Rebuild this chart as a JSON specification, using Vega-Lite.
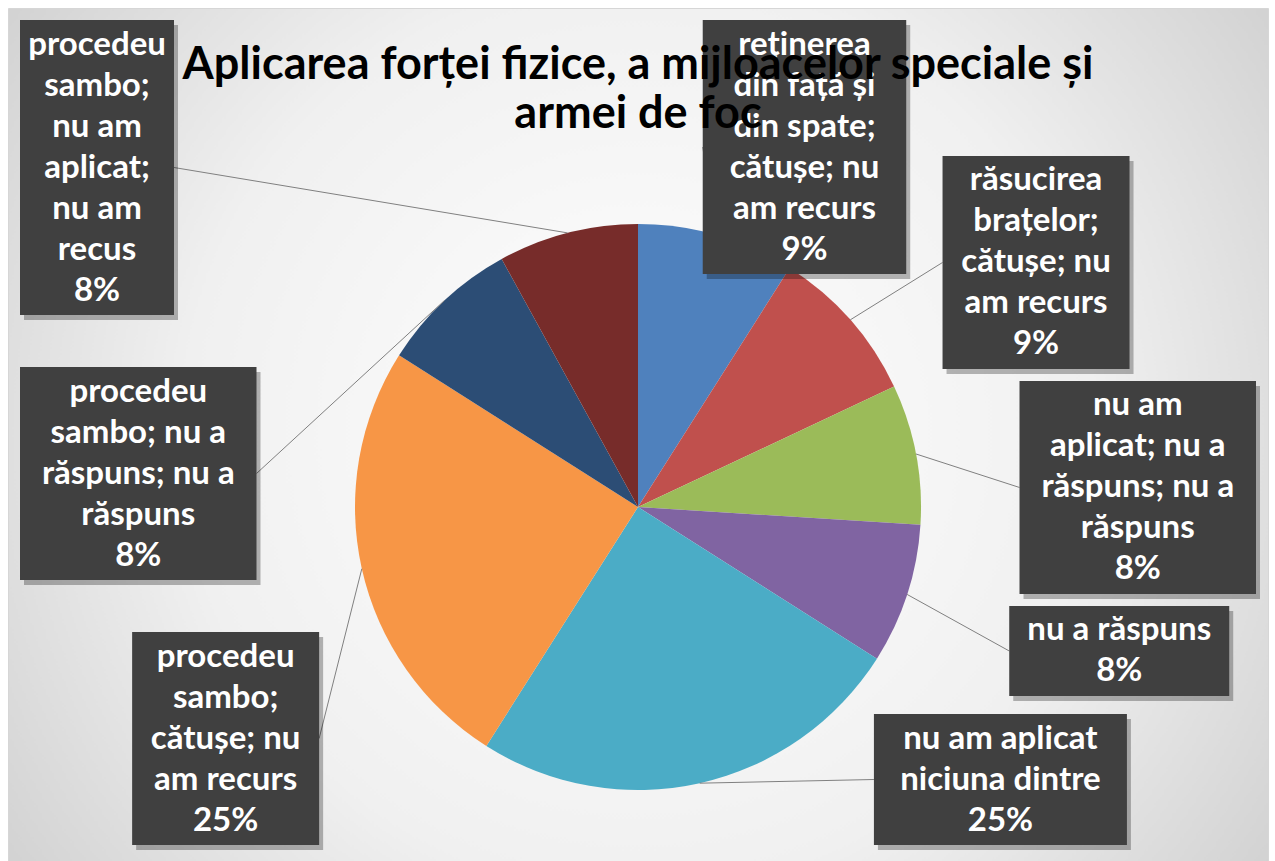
{
  "$schema": "https://vega.github.io/schema/vega-lite/v6.json",
  "width": 1260,
  "height": 853,
  "padding": {"left": 8, "top": 8, "right": 7, "bottom": 0},
  "autosize": {"type": "none"},
  "background": "#ffffff",
  "view": {
    "fill": {"gradient": "radial", "x1": 0.5, "y1": 0.5, "x2": 0.5, "y2": 0.5, "r1": 0, "r2": 0.72,
      "stops": [{"offset": 0, "color": "#ffffff"}, {"offset": 0.5, "color": "#f0f0f0"}, {"offset": 1, "color": "#c4c4c4"}]},
    "stroke": "#d6d6d6"
  },
  "title": {
    "text": ["Aplicarea forței fizice, a mijloacelor speciale și", "armei de foc"],
    "font": "Lato", "fontSize": 45, "fontWeight": "bold", "color": "#000000",
    "anchor": "middle", "offset": -129, "lineHeight": 49
  },
  "data": {
    "values": [
      {"label": "reținerea\ndin față și\ndin spate;\ncătușe; nu\nam recurs", "value": 9},
      {"label": "răsucirea\nbrațelor;\ncătușe; nu\nam recurs", "value": 9},
      {"label": "nu am\naplicat; nu a\nrăspuns; nu a\nrăspuns", "value": 8},
      {"label": "nu a răspuns", "value": 8},
      {"label": "nu am aplicat\nniciuna dintre", "value": 25},
      {"label": "procedeu\nsambo;\ncătușe; nu\nam recurs", "value": 25},
      {"label": "procedeu\nsambo; nu a\nrăspuns; nu a\nrăspuns", "value": 8},
      {"label": "procedeu\nsambo;\nnu am\naplicat;\nnu am\nrecus", "value": 8}
    ]
  },
  "transform": [
    {"window": [{"op": "row_number", "as": "idx"}]},
    {"joinaggregate": [{"op": "sum", "field": "value", "as": "total"}]},
    {"window": [{"op": "sum", "field": "value", "as": "cum"}], "sort": [{"field": "idx"}], "frame": [null, 0]},
    {"calculate": "2*PI*(datum.cum - datum.value/2)/datum.total", "as": "mid"},
    {"calculate": "datum.label + '\\n' + datum.value + '%'", "as": "full"},
    {"calculate": "split(datum.full, '\\n')", "as": "parts"},
    {"calculate": "length(datum.parts)", "as": "nl"},
    {"calculate": "max(length(datum.parts[0]||''), length(datum.parts[1]||''), length(datum.parts[2]||''), length(datum.parts[3]||''), length(datum.parts[4]||''), length(datum.parts[5]||''), length(datum.parts[6]||''))", "as": "maxc"},
    {"calculate": "datum.nl*41 + 8", "as": "h"},
    {"calculate": "datum.maxc*16.5 + 22", "as": "w"},
    {"calculate": "sin(datum.mid) >= 0 ? 1 : -1", "as": "side"},
    {"calculate": "datum.side > 0 ? datum.mid : 2*PI - datum.mid", "as": "vkey"},
    {"calculate": "-487 + datum.h/2", "as": "ytop"},
    {"calculate": "338 - datum.h/2", "as": "ybot"},
    {"calculate": "618 - datum.w/2", "as": "flush"},
    {"calculate": "clamp(20 - 400*cos(datum.mid), datum.ytop, datum.ybot)", "as": "dy0"},
    {"calculate": "datum.side*min(datum.flush, 520*sqrt(max(0, 1 - pow(datum.dy0/380, 2))))", "as": "x0"},
    {"window": [
      {"op": "row_number", "as": "rk"},
      {"op": "count", "as": "cnt"},
      {"op": "lag", "field": "x0", "param": 1, "as": "px0"},
      {"op": "lag", "field": "w", "param": 1, "as": "pw"},
      {"op": "lag", "field": "h", "param": 1, "as": "ph"},
      {"op": "sum", "field": "h", "as": "htot"}
    ], "groupby": ["side"], "sort": [{"field": "vkey", "order": "ascending"}], "frame": [null, null]},
    {"window": [{"op": "sum", "field": "h", "as": "hcum"}], "groupby": ["side"], "sort": [{"field": "vkey", "order": "ascending"}], "frame": [null, 0]},
    {"calculate": "datum.rk == 1 ? 0 : (abs(datum.x0 - datum.px0) < (datum.w + datum.pw)/2 ? (datum.h + datum.ph)/2 + 12 : -3000)", "as": "step"},
    {"window": [{"op": "sum", "field": "step", "as": "stepcum"}], "groupby": ["side"], "sort": [{"field": "vkey", "order": "ascending"}], "frame": [null, 0]},
    {"calculate": "datum.dy0 - datum.stepcum", "as": "zz"},
    {"window": [{"op": "max", "field": "zz", "as": "zzmax"}], "groupby": ["side"], "sort": [{"field": "vkey", "order": "ascending"}], "frame": [null, 0]},
    {"calculate": "datum.side > 0 ? min(datum.stepcum + datum.zzmax, datum.ybot) : (-487 + datum.hcum - datum.h + (datum.rk - 1)*(825 - datum.htot)/max(1, datum.cnt - 1) + datum.h/2)", "as": "ly"},
    {"calculate": "520*sqrt(max(0, 1 - pow(datum.ly/380, 2)))", "as": "ell"},
    {"calculate": "datum.side > 0 ? min(datum.flush, datum.ell) : -(datum.ly > 0 ? min(datum.flush, datum.ell) : datum.flush)", "as": "lx"},
    {"calculate": "datum.ly - (datum.nl - 1)*41/2", "as": "ty"},
    {"calculate": "datum.lx - datum.w/2", "as": "bx1"},
    {"calculate": "datum.lx + datum.w/2", "as": "bx2"},
    {"calculate": "datum.ly - datum.h/2", "as": "by1"},
    {"calculate": "datum.ly + datum.h/2", "as": "by2"},
    {"calculate": "283*sin(datum.mid)", "as": "px"},
    {"calculate": "-283*cos(datum.mid)", "as": "py"},
    {"calculate": "datum.side > 0 ? datum.bx1 : datum.bx2", "as": "ex"}
  ],
  "layer": [
    {
      "mark": {"type": "arc", "outerRadius": 283},
      "encoding": {
        "x": {"datum": 0, "type": "quantitative", "scale": {"domain": [-630, 630]}, "axis": null},
        "y": {"datum": 0, "type": "quantitative", "scale": {"domain": [-499, 354], "reverse": true}, "axis": null},
        "theta": {"field": "value", "type": "quantitative", "stack": true},
        "order": {"field": "idx", "type": "quantitative"},
        "color": {
          "field": "label", "type": "nominal", "legend": null,
          "scale": {
            "domain": [
              "reținerea\ndin față și\ndin spate;\ncătușe; nu\nam recurs",
              "răsucirea\nbrațelor;\ncătușe; nu\nam recurs",
              "nu am\naplicat; nu a\nrăspuns; nu a\nrăspuns",
              "nu a răspuns",
              "nu am aplicat\nniciuna dintre",
              "procedeu\nsambo;\ncătușe; nu\nam recurs",
              "procedeu\nsambo; nu a\nrăspuns; nu a\nrăspuns",
              "procedeu\nsambo;\nnu am\naplicat;\nnu am\nrecus"
            ],
            "range": ["#4F81BD", "#C0504D", "#9BBB59", "#8064A2", "#4BACC6", "#F79646", "#2C4D75", "#772C2A"]
          }
        }
      }
    },
    {
      "mark": {"type": "rule", "color": "#808080", "strokeWidth": 1},
      "encoding": {
        "x": {"field": "px", "type": "quantitative", "scale": {"domain": [-630, 630]}, "axis": null},
        "y": {"field": "py", "type": "quantitative", "scale": {"domain": [-499, 354], "reverse": true}, "axis": null},
        "x2": {"field": "ex"},
        "y2": {"field": "ly"}
      }
    },
    {
      "mark": {"type": "rect", "color": "#000000", "opacity": 0.28, "xOffset": 4, "x2Offset": 4, "yOffset": 5, "y2Offset": 5},
      "encoding": {
        "x": {"field": "bx1", "type": "quantitative", "scale": {"domain": [-630, 630]}, "axis": null},
        "x2": {"field": "bx2"},
        "y": {"field": "by1", "type": "quantitative", "scale": {"domain": [-499, 354], "reverse": true}, "axis": null},
        "y2": {"field": "by2"}
      }
    },
    {
      "mark": {"type": "rect", "color": "#404040", "opacity": 1},
      "encoding": {
        "x": {"field": "bx1", "type": "quantitative", "scale": {"domain": [-630, 630]}, "axis": null},
        "x2": {"field": "bx2"},
        "y": {"field": "by1", "type": "quantitative", "scale": {"domain": [-499, 354], "reverse": true}, "axis": null},
        "y2": {"field": "by2"}
      }
    },
    {
      "mark": {"type": "text", "font": "Lato", "fontSize": 33, "fontWeight": "bold", "color": "#ffffff", "lineBreak": "\n", "lineHeight": 41, "align": "center", "baseline": "middle"},
      "encoding": {
        "x": {"field": "lx", "type": "quantitative", "scale": {"domain": [-630, 630]}, "axis": null},
        "y": {"field": "ty", "type": "quantitative", "scale": {"domain": [-499, 354], "reverse": true}, "axis": null},
        "text": {"field": "full"}
      }
    }
  ]
}
